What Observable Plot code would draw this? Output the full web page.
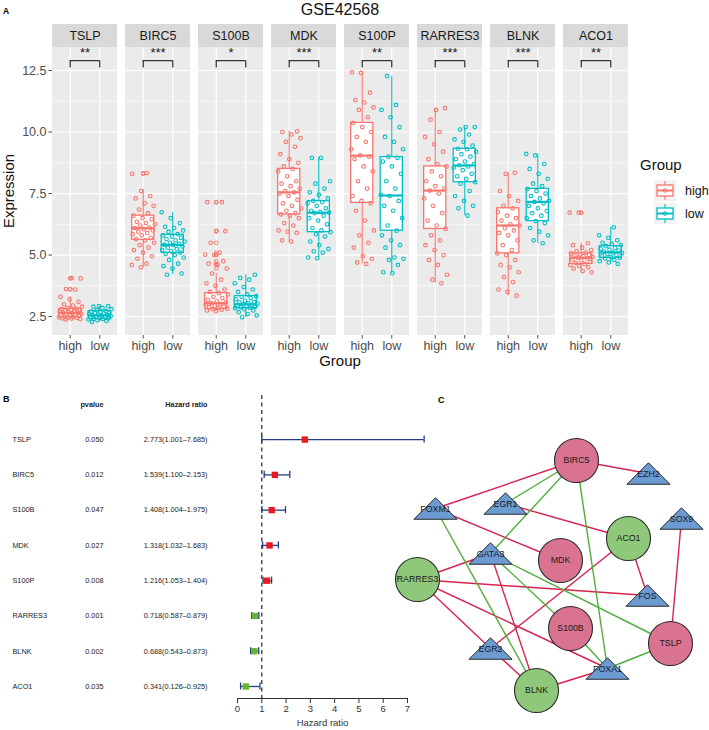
<!DOCTYPE html>
<html><head><meta charset="utf-8">
<script src="https://cdn.jsdelivr.net/npm/d3@7"></script>
<script src="https://cdn.jsdelivr.net/npm/@observablehq/plot@0.6"></script>
<style>
body{margin:0;background:#fff;}
#fig{position:relative;width:709px;height:730px;overflow:hidden;background:#fff;}
</style></head><body><div id="fig"></div>
<script>
const FONT = '"Liberation Sans", Arial, Helvetica, sans-serif';

// ---------- Panel A data ----------
const genes = ["TSLP","BIRC5","S100B","MDK","S100P","RARRES3","BLNK","ACO1"];
const groups = ["high","low"];
const groupColors = ["#F8766D","#00BFC4"];
const stars = ["**","***","*","***","**","***","***","**"];
const majorY = [2.5,5,7.5,10,12.5];
const minorY = [3.75,6.25,8.75,11.25];

const tslpHigh = [2.38,2.40,2.42,2.43,2.45,2.46,2.47,2.48,2.5,2.52,2.54,2.55,2.57,2.6,2.62,2.64,2.65,2.66,2.68,2.7,2.72,2.74,2.76,2.78,2.8,2.81,2.85,2.9,2.95,3.0,3.1,3.2,3.3,3.6,3.62,4.05,4.06];
const tslpLow = [2.28,2.32,2.35,2.38,2.4,2.41,2.43,2.45,2.47,2.48,2.5,2.52,2.53,2.55,2.56,2.58,2.6,2.62,2.64,2.66,2.68,2.7,2.72,2.76,2.8,2.85,2.9,2.92,2.92];
const birc5High = [4.5,4.6,4.65,4.85,4.95,5.1,5.2,5.3,5.4,5.5,5.6,5.65,5.7,5.8,5.85,5.9,5.95,6.0,6.05,6.1,6.12,6.2,6.25,6.3,6.35,6.45,6.5,6.6,6.7,6.85,7.0,7.1,7.3,7.4,7.6,8.3,8.33];
const birc5Low = [4.2,4.25,4.45,4.55,4.65,4.8,4.9,5.0,5.05,5.1,5.15,5.2,5.25,5.3,5.35,5.4,5.42,5.45,5.5,5.55,5.6,5.65,5.7,5.75,5.8,5.85,5.95,6.0,6.1,6.15,6.3,6.5,6.74];
const s100bHigh = [2.72,2.75,2.78,2.8,2.82,2.85,2.88,2.9,2.95,3.0,3.02,3.05,3.08,3.12,3.18,3.25,3.3,3.4,3.45,3.5,3.6,3.75,3.85,4.0,4.25,4.45,4.6,4.65,4.75,5.0,5.02,5.1,5.5,5.97,5.97,7.15,7.15];
const s100bLow = [2.47,2.55,2.6,2.68,2.75,2.8,2.84,2.86,2.88,2.9,2.92,2.95,2.97,3.0,3.02,3.05,3.08,3.1,3.15,3.2,3.25,3.3,3.33,3.4,3.5,3.6,3.7,3.85,4.0,4.07,4.2];
const mdkHigh = [5.55,5.6,5.9,5.95,6.0,6.2,6.3,6.5,6.6,6.65,6.7,6.8,6.9,7.0,7.1,7.25,7.4,7.5,7.55,7.6,7.7,7.8,7.9,8.0,8.2,8.4,8.5,8.6,8.75,8.9,9.1,9.4,9.6,9.75,9.9,10.0,10.03];
const mdkLow = [4.87,4.9,5.1,5.15,5.25,5.4,5.55,5.75,5.85,5.93,6.0,6.1,6.25,6.4,6.5,6.6,6.7,6.72,6.75,6.8,6.9,7.0,7.1,7.15,7.2,7.3,7.45,7.55,7.7,7.9,8.0,8.95,8.95];
const s100pHigh = [4.64,4.7,4.85,4.95,5.3,5.5,5.8,6.0,6.4,6.8,7.1,7.2,7.4,7.7,8.0,8.4,8.6,8.9,9.0,9.05,9.3,9.6,9.8,10.0,10.2,10.37,10.6,10.9,11.0,11.2,11.3,11.6,12.4,12.43];
const s100pLow = [4.26,4.3,4.6,4.8,4.85,4.9,5.3,5.4,5.6,5.8,5.99,6.2,6.5,6.8,7.0,7.2,7.4,7.45,7.7,8.0,8.3,8.6,8.8,8.95,9.0,9.3,9.6,9.8,10.2,10.6,10.9,11.1,12.27];
const rarres3High = [3.85,4.0,4.2,4.6,4.8,5.0,5.2,5.4,5.6,5.8,6.06,6.2,6.4,6.7,7.0,7.3,7.5,7.62,7.7,7.8,8.0,8.2,8.4,8.6,8.7,8.9,9.2,9.5,9.8,10.0,10.5,10.97,10.9];
const rarres3Low = [6.6,6.9,7.0,7.2,7.4,7.6,7.9,7.96,8.1,8.2,8.3,8.45,8.55,8.6,8.65,8.7,8.8,8.9,9.0,9.1,9.2,9.3,9.32,9.45,9.6,9.7,9.9,10.1,10.2,10.2];
const blnkHigh = [3.35,3.5,3.6,3.9,4.1,4.3,4.5,4.6,4.8,5.0,5.07,5.2,5.4,5.6,5.8,5.9,6.0,6.1,6.2,6.25,6.4,6.5,6.6,6.75,6.9,7.0,7.2,7.4,7.6,8.34,8.3];
const blnkLow = [5.48,5.6,5.8,5.95,6.1,6.3,6.38,6.5,6.6,6.7,6.8,6.9,7.0,7.1,7.16,7.2,7.3,7.4,7.5,7.6,7.69,7.8,7.9,8.1,8.3,8.5,8.7,9.05,9.11];
const aco1High = [4.3,4.35,4.45,4.5,4.55,4.6,4.64,4.68,4.72,4.78,4.82,4.86,4.89,4.92,4.95,4.98,5.0,5.03,5.07,5.1,5.15,5.2,5.3,5.4,5.48,6.72,6.72];
const aco1Low = [4.64,4.7,4.75,4.8,4.86,4.89,4.92,4.96,5.0,5.04,5.08,5.11,5.14,5.18,5.22,5.26,5.3,5.36,5.4,5.45,5.5,5.6,5.7,5.8,6.13];

const highPoints = [tslpHigh,birc5High,s100bHigh,mdkHigh,s100pHigh,rarres3High,blnkHigh,aco1High];
const lowPoints = [tslpLow,birc5Low,s100bLow,mdkLow,s100pLow,rarres3Low,blnkLow,aco1Low];

// box statistics (whisker low, Q1, median, Q3, whisker high)
const highMin = [2.38,4.5,2.72,5.52,4.64,3.85,3.35,4.3];
const highQ1  = [2.47,5.62,2.81,6.65,7.12,6.06,5.07,4.64];
const highMed = [2.65,6.09,3.04,7.55,9.04,7.62,6.2,4.89];
const highQ3  = [2.81,6.6,3.45,8.5,10.37,8.6,6.9,5.07];
const highMax = [3.3,7.66,4.26,10.03,12.43,10.97,8.34,5.48];
const lowMin = [2.28,4.2,2.47,4.87,4.26,6.6,5.48,4.64];
const lowQ1  = [2.4,5.09,2.84,5.93,5.99,7.96,6.38,4.89];
const lowMed = [2.55,5.41,3.0,6.72,7.42,8.64,7.16,5.11];
const lowQ3  = [2.72,5.82,3.33,7.19,8.98,9.32,7.69,5.36];
const lowMax = [2.92,6.74,4.2,8.95,12.27,10.2,9.11,6.13];

// ---------- Panel B data ----------
const fGenes = ["TSLP","BIRC5","S100B","MDK","S100P","RARRES3","BLNK","ACO1"];
const fP = ["0.050","0.012","0.047","0.027","0.008","0.001","0.002","0.035"];
const fHR = [2.773,1.539,1.408,1.318,1.216,0.718,0.688,0.341];
const fLow = [1.001,1.100,1.004,1.032,1.053,0.587,0.543,0.126];
const fHigh = [7.685,2.153,1.975,1.683,1.404,0.879,0.873,0.925];
const hrTicks = [0,1,2,3,4,5,6,7];

// ---------- Panel C data (layout coordinates) ----------
const nodeNames = ["BIRC5","EZH2","FOXM1","EGR1","SOX9","ACO1","GATA3","MDK","RARRES3","FOS","S100B","TSLP","EGR2","FOXA1","BLNK"];
const nodeKind  = ["up","tf","tf","tf","tf","down","tf","up","down","tf","up","up","tf","tf","down"];
const nodeX = [216,288,75,145,321,268,130,200,57,287,210,310,130,247,176];
const nodeY = [80,93,128,123,138,158,173,180,199,215,248,263,268,288,310];
const edgeFrom = ["BIRC5","BIRC5","FOXM1","EGR1","SOX9","ACO1","ACO1","RARRES3","RARRES3","RARRES3","EGR2","RARRES3","GATA3","BLNK","BIRC5","BIRC5","BIRC5","FOXM1","GATA3","GATA3","S100B","TSLP"];
const edgeTo   = ["EZH2","FOXM1","MDK","ACO1","TSLP","FOS","EGR2","GATA3","FOS","EGR2","BLNK","FOXA1","BLNK","FOXA1","EGR1","GATA3","FOXA1","BLNK","S100B","TSLP","FOXA1","FOXA1"];
const edgeSign = ["neg","neg","neg","neg","neg","neg","neg","neg","neg","neg","neg","neg","neg","neg","pos","pos","pos","pos","pos","pos","pos","pos"];

// ---------- build Panel A ----------
const fig = document.getElementById("fig");
const place = (el, left, top) => { el.style.position = "absolute"; el.style.left = left + "px"; el.style.top = top + "px"; fig.appendChild(el); };
const jit = i => (((i * 0.6180339887 + 0.31) % 1) - 0.5) * 0.8;

const pts = [], boxes = [];
genes.forEach((g, gi) => {
  boxes.push({gene: g, group: "high", c: 1, min: highMin[gi], q1: highQ1[gi], med: highMed[gi], q3: highQ3[gi], max: highMax[gi]});
  boxes.push({gene: g, group: "low", c: 2, min: lowMin[gi], q1: lowQ1[gi], med: lowMed[gi], q3: lowQ3[gi], max: lowMax[gi]});
  highPoints[gi].forEach((v, i) => pts.push({gene: g, group: "high", c: 1, v, j: jit(i + gi * 5)}));
  lowPoints[gi].forEach((v, i) => pts.push({gene: g, group: "low", c: 2, v, j: jit(i + gi * 5 + 3)}));
});
const outl = pts.filter(p => { const b = boxes.find(b => b.gene === p.gene && b.group === p.group); return p.v < b.min - 1e-9 || p.v > b.max + 1e-9; });
const starRows = genes.map((g, i) => ({gene: g, s: stars[i]}));
const legs = genes.flatMap(g => [{gene: g, c: 1}, {gene: g, c: 2}]);

const yBot = 1.73, yTop = 13.43, yStrip = 14.37;
const plotA = Plot.plot({
  width: 709, height: 370, marginLeft: 51, marginRight: 80, marginTop: 24, marginBottom: 35,
  style: {fontFamily: FONT, background: "transparent", overflow: "visible"},
  fx: {domain: genes, paddingInner: 0.108, paddingOuter: 0, axis: null, label: null},
  x: {domain: [0.4, 2.6]},
  y: {domain: [yBot, yStrip]},
  color: {domain: groups, range: groupColors},
  marks: [
    Plot.rect(genes, {fx: d => d, x1: 0.4, x2: 2.6, y1: yBot, y2: yTop, fill: "#EBEBEB"}),
    Plot.rect(genes, {fx: d => d, x1: 0.4, x2: 2.6, y1: yTop, y2: yStrip, fill: "#D9D9D9"}),
    Plot.text(genes, {fx: d => d, x: 1.5, y: (yTop + yStrip) / 2, text: d => d, fontSize: 12.5, fill: "#1A1A1A"}),
    Plot.ruleY(minorY, {x1: 0.4, x2: 2.6, y: d => d, stroke: "white", strokeWidth: 0.6}),
    Plot.ruleY(majorY, {x1: 0.4, x2: 2.6, y: d => d, stroke: "white", strokeWidth: 1.2}),
    Plot.ruleX([1, 2], {x: d => d, y1: yBot, y2: yTop, stroke: "white", strokeWidth: 1.2}),
    Plot.ruleY(genes, {fx: d => d, y: 12.9, x1: 1, x2: 2, stroke: "#1A1A1A", strokeWidth: 1.1}),
    Plot.ruleX(legs, {fx: "gene", x: "c", y1: 12.6, y2: 12.9, stroke: "#1A1A1A", strokeWidth: 1.1}),
    Plot.text(starRows, {fx: "gene", x: 1.5, y: 13.2, text: "s", fontSize: 13, fill: "#1A1A1A"}),
    Plot.ruleX(boxes, {fx: "gene", x: "c", y1: "min", y2: "q1", stroke: "group", strokeWidth: 1.1}),
    Plot.ruleX(boxes, {fx: "gene", x: "c", y1: "q3", y2: "max", stroke: "group", strokeWidth: 1.1}),
    Plot.rect(boxes, {fx: "gene", x1: d => d.c - 0.375, x2: d => d.c + 0.375, y1: "q1", y2: "q3", fill: "white", stroke: "group", strokeWidth: 1.3}),
    Plot.ruleY(boxes, {fx: "gene", y: "med", x1: d => d.c - 0.375, x2: d => d.c + 0.375, stroke: "group", strokeWidth: 2.2}),
    Plot.dot(outl, {fx: "gene", x: "c", y: "v", stroke: "group", r: 1.8, strokeWidth: 1}),
    Plot.dot(pts, {fx: "gene", x: d => d.c + d.j, y: "v", stroke: "group", r: 1.8, strokeWidth: 1.1}),
    Plot.axisX({ticks: [1, 2], tickFormat: d => groups[d - 1], tickSize: 3.5, tickPadding: 2.5, fontSize: 12.5, color: "#4D4D4D", label: null}),
    Plot.axisY({ticks: majorY, tickFormat: d => d.toFixed(1), tickSize: 3.5, tickPadding: 2.5, fontSize: 12.5, color: "#4D4D4D", label: null})
  ]
});
place(plotA, 0, 0);

// ---------- build Panel B ----------
const rows = fGenes.map((g, i) => ({g, i, p: fP[i], hr: fHR[i], lo: fLow[i], hi: fHigh[i],
  txt: `${fHR[i].toFixed(3)}(${fLow[i].toFixed(3)}\u2013${fHigh[i].toFixed(3)})`,
  col: fHR[i] > 1 ? "#E8191F" : "#66B530"}));
const NAVY = "#243C84";
const yB0 = -1.25, yB1 = 7.34;
const TS = 7.3;
const plotB = Plot.plot({
  width: 440, height: 350, marginLeft: 237, marginRight: 33, marginTop: 15, marginBottom: 32,
  style: {fontFamily: FONT, background: "transparent", overflow: "visible"},
  x: {domain: [0, 7]},
  y: {domain: [yB0, yB1], range: [15, 318], axis: null},
  color: {type: "identity"},
  marks: [
    Plot.ruleX([1], {x: d => d, y1: yB0, y2: yB1, stroke: "#333", strokeWidth: 1.3, strokeDasharray: "4,3.5"}),
    Plot.ruleY(rows, {y: "i", x1: "lo", x2: "hi", stroke: NAVY, strokeWidth: 1.3}),
    Plot.ruleX(rows, {x: "lo", y1: d => d.i - 0.1, y2: d => d.i + 0.1, stroke: NAVY, strokeWidth: 1.3}),
    Plot.ruleX(rows, {x: "hi", y1: d => d.i - 0.1, y2: d => d.i + 0.1, stroke: NAVY, strokeWidth: 1.3}),
    Plot.dot(rows, {x: "hr", y: "i", symbol: "square", r: 3.6, fill: "col", stroke: "none"}),
    Plot.text(rows, {y: "i", frameAnchor: "left", dx: -225, text: "g", textAnchor: "start", fontSize: TS, fill: "#222"}),
    Plot.text(rows, {y: "i", frameAnchor: "left", dx: -134, text: "p", textAnchor: "end", fontSize: TS, fill: "#222"}),
    Plot.text(rows, {y: "i", frameAnchor: "left", dx: -30, text: "txt", textAnchor: "end", fontSize: TS, fill: "#222"}),
    Plot.text(["pvalue"], {y: -1, frameAnchor: "left", dx: -134, text: d => d, textAnchor: "end", fontSize: TS, fontWeight: "bold", fill: "#222"}),
    Plot.text(["Hazard ratio"], {y: -1, frameAnchor: "left", dx: -30, text: d => d, textAnchor: "end", fontSize: TS, fontWeight: "bold", fill: "#222"}),
    Plot.ruleY([yB1], {y: d => d, x1: 0, x2: 7, stroke: "#333", strokeWidth: 1}),
    Plot.axisX({ticks: hrTicks, tickFormat: d => String(d), tickSize: 5, tickPadding: 2, fontSize: 9.5, color: "#333", label: null}),
    Plot.text(["Hazard ratio"], {x: 3.5, frameAnchor: "bottom", dy: 27, text: d => d, fontSize: 9.5, fill: "#333"})
  ]
});
place(plotB, 0, 380);

// ---------- build Panel C ----------
const nodes = nodeNames.map((n, i) => ({n, k: nodeKind[i], x: nodeX[i], y: nodeY[i]}));
const byName = Object.fromEntries(nodes.map(d => [d.n, d]));
const edges = edgeFrom.map((f, i) => ({a: byName[f], b: byName[edgeTo[i]], s: edgeSign[i]}));
const triangle = {draw(ctx, size) { const r = Math.sqrt(size / Math.PI); ctx.moveTo(0, -r * 0.5); ctx.lineTo(r, r * 0.5); ctx.lineTo(-r, r * 0.5); ctx.closePath(); }};
const nodeFill = {up: "#D9738F", down: "#8FC87B", tf: "#6C9BD2"};
const plotC = Plot.plot({
  width: 349, height: 350, margin: 0,
  style: {fontFamily: FONT, background: "transparent", overflow: "visible"},
  x: {domain: [0, 349], range: [0, 349], axis: null},
  y: {domain: [0, 350], range: [0, 350], axis: null},
  color: {type: "identity"},
  marks: [
    Plot.link(edges, {x1: d => d.a.x, y1: d => d.a.y, x2: d => d.b.x, y2: d => d.b.y, stroke: d => d.s === "neg" ? "#D6234F" : "#4FAE3B", strokeWidth: 1.4}),
    Plot.dot(nodes.filter(d => d.k !== "tf"), {x: "x", y: "y", r: 22, fill: d => nodeFill[d.k], stroke: "#2A2A2A", strokeWidth: 1.1}),
    Plot.dot(nodes.filter(d => d.k === "tf"), {x: "x", y: "y", r: 21.5, symbol: triangle, fill: nodeFill.tf, stroke: "#2A2A2A", strokeWidth: 1}),
    Plot.text(nodes, {x: "x", y: d => d.y + (d.k === "tf" ? 1 : 0), text: "n", fontSize: 8.8, fill: "#1A1A1A"})
  ]
});
place(plotC, 360, 380);

// ---------- overlay: titles, labels, legend ----------
const svg = d3.select(fig).append("svg").attr("width", 709).attr("height", 730)
  .style("position", "absolute").style("left", "0px").style("top", "0px").style("pointer-events", "none")
  .style("font-family", FONT);
svg.append("text").attr("x", 3).attr("y", 13.5).attr("font-size", 8.5).attr("font-weight", "bold").text("A");
svg.append("text").attr("x", 340).attr("y", 14.5).attr("text-anchor", "middle").attr("font-size", 16).attr("fill", "#111").text("GSE42568");
svg.append("text").attr("transform", "translate(8,191) rotate(-90)").attr("text-anchor", "middle").attr("dominant-baseline", "central").attr("font-size", 15).attr("fill", "#111").text("Expression");
svg.append("text").attr("x", 340).attr("y", 366).attr("text-anchor", "middle").attr("font-size", 15).attr("fill", "#111").text("Group");
svg.append("text").attr("x", 640).attr("y", 170).attr("font-size", 15).attr("fill", "#111").text("Group");
groups.forEach((g, i) => {
  const top = 180 + i * 23, cx = 665, cy = top + 10.5, col = groupColors[i];
  svg.append("rect").attr("x", 654).attr("y", top).attr("width", 22).attr("height", 21).attr("fill", "#F2F2F2");
  svg.append("line").attr("x1", cx).attr("x2", cx).attr("y1", top + 1).attr("y2", top + 20).attr("stroke", col).attr("stroke-width", 1.1);
  svg.append("rect").attr("x", cx - 8).attr("y", cy - 5.5).attr("width", 16).attr("height", 11).attr("fill", "white").attr("stroke", col).attr("stroke-width", 1.3);
  svg.append("line").attr("x1", cx - 8).attr("x2", cx + 8).attr("y1", cy).attr("y2", cy).attr("stroke", col).attr("stroke-width", 2);
  svg.append("circle").attr("cx", cx).attr("cy", cy).attr("r", 1.8).attr("fill", "none").attr("stroke", col);
  svg.append("text").attr("x", 685).attr("y", cy).attr("dominant-baseline", "central").attr("font-size", 12.5).attr("fill", "#111").text(g);
});
svg.append("text").attr("x", 3).attr("y", 402).attr("font-size", 9).attr("font-weight", "bold").text("B");
svg.append("text").attr("x", 438).attr("y", 403).attr("font-size", 9).attr("font-weight", "bold").text("C");
</script></body></html>
